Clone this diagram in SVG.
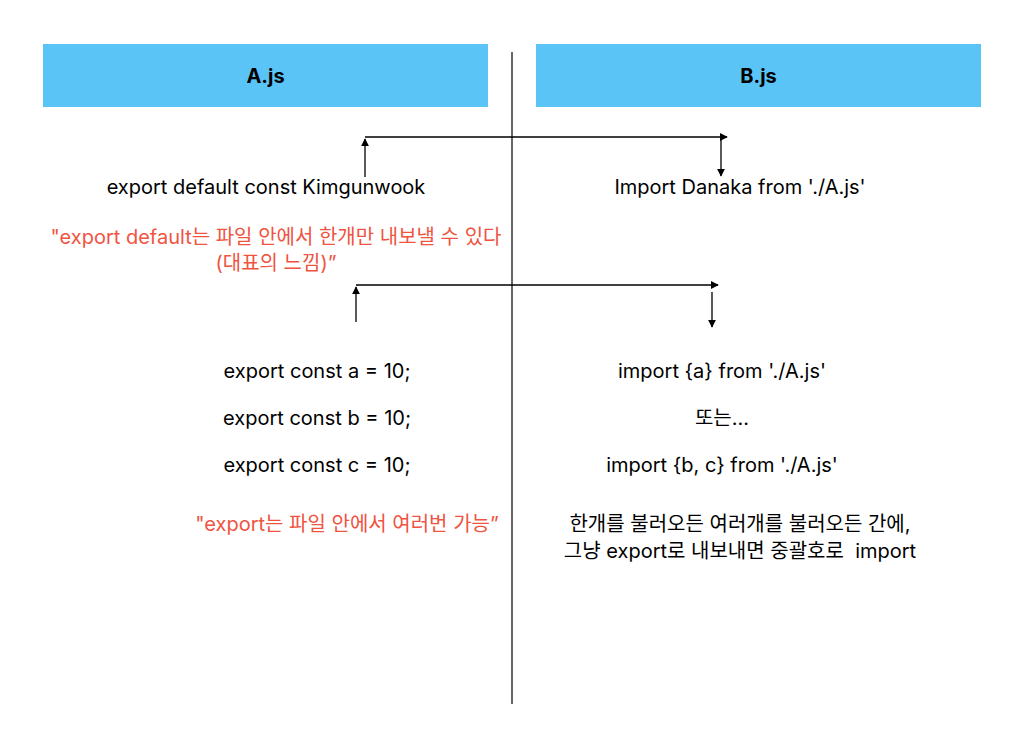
<svg xmlns="http://www.w3.org/2000/svg" width="1024" height="748" viewBox="0 0 1024 748">
<defs>
<marker id="ah" viewBox="0 0 10 10" refX="9" refY="5" markerWidth="8" markerHeight="8" markerUnits="userSpaceOnUse" orient="auto"><path d="M0,0 L10,5 L0,10 z" fill="#000"/></marker>
<style>
text{font-family:Inter,"Noto Sans CJK KR",sans-serif;font-size:20px;fill:#000;text-anchor:middle;white-space:pre}
.h{font-weight:bold}
.r{fill:#f0533f}
.hdr{fill:#5bc4f7}
.ln{stroke:#000;stroke-width:1.3;fill:none}
</style>
</defs>
<rect width="1024" height="748" fill="#fff"/>
<g id="divider"><line x1="512" y1="52" x2="512" y2="704" stroke="#333" stroke-width="1.5"/></g>
<g id="nodeA"><rect class="hdr" x="43" y="44" width="445" height="63"/><text class="h" x="265.5" y="83">A.js</text></g>
<g id="nodeB"><rect class="hdr" x="536" y="44" width="445" height="63"/><text class="h" x="758.5" y="83">B.js</text></g>
<g id="connectors">
<line class="ln" x1="365" y1="177" x2="365" y2="139" marker-end="url(#ah)"/>
<line class="ln" x1="365" y1="137" x2="727" y2="137" marker-end="url(#ah)"/>
<line class="ln" x1="721" y1="139" x2="721" y2="176" marker-end="url(#ah)"/>
<line class="ln" x1="356" y1="322" x2="356" y2="287" marker-end="url(#ah)"/>
<line class="ln" x1="356" y1="285" x2="718" y2="285" marker-end="url(#ah)"/>
<line class="ln" x1="712" y1="292" x2="712" y2="327" marker-end="url(#ah)"/>
</g>
<g id="textA1"><text x="266" y="194">export default const Kimgunwook</text></g>
<g id="textB1"><text x="740" y="194">Import Danaka from './A.js'</text></g>
<g id="noteA1"><text class="r" x="276" y="244">"export default는 파일 안에서 한개만 내보낼 수 있다</text><text class="r" x="276" y="270">(대표의 느낌)”</text></g>
<g id="textA2"><text x="317" y="378">export const a = 10;</text><text x="317" y="425">export const b = 10;</text><text x="317" y="472">export const c = 10;</text></g>
<g id="textB2"><text x="722" y="378">import {a} from './A.js'</text><text x="722" y="425">또는...</text><text x="722" y="472">import {b, c} from './A.js'</text></g>
<g id="noteA2"><text class="r" x="347" y="531">"export는 파일 안에서 여러번 가능”</text></g>
<g id="noteB2"><text x="740" y="531">한개를 불러오든 여러개를 불러오든 간에,</text><text x="740" y="558">그냥 export로 내보내면 중괄호로  import</text></g>
</svg>
